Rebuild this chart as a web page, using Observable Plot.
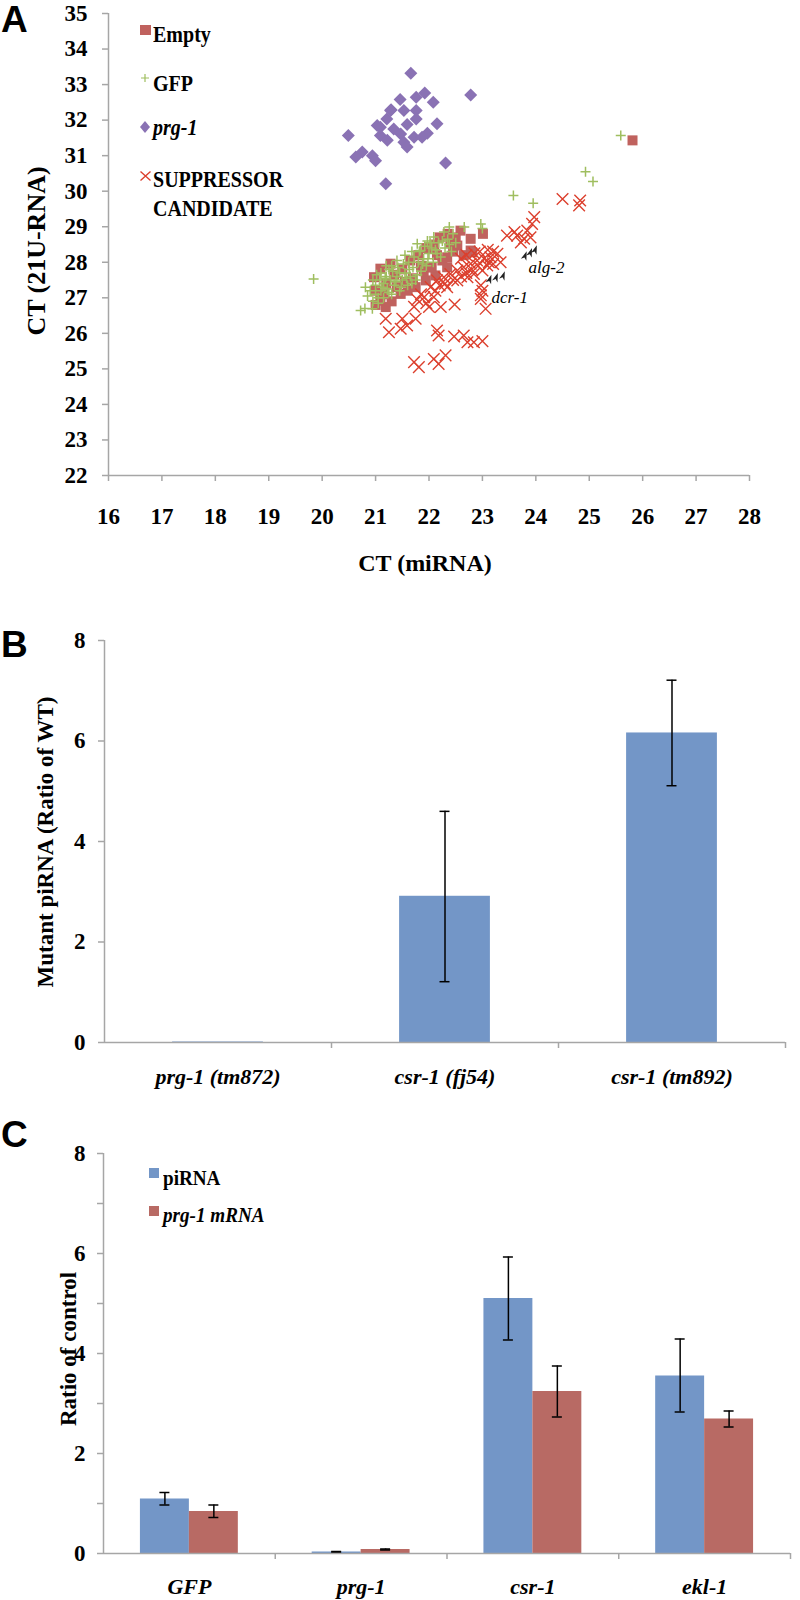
<!DOCTYPE html>
<html>
<head>
<meta charset="utf-8">
<script src="https://cdn.jsdelivr.net/npm/d3@7"></script>
<script src="https://cdn.jsdelivr.net/npm/@observablehq/plot@0.6"></script>
<style>
  html, body { margin: 0; padding: 0; background: #fff; }
  #page { position: relative; width: 800px; height: 1600px; overflow: hidden; background: #fff;
          font-family: "Liberation Serif", "Times New Roman", serif; font-weight: bold; color: #000; }
  .pnl { position: absolute; left: 0; }
  .t { position: absolute; line-height: 1; white-space: nowrap; }
  .rot { transform: translate(-50%, -50%) rotate(-90deg); }
  .ctr { transform: translate(-50%, -50%); }
  .letter { font-family: "Liberation Sans", Arial, sans-serif; font-weight: bold; font-size: 37px; }
  .lg { transform: scaleX(0.87); transform-origin: 0 50%; }
  .mk { position: absolute; overflow: visible; }
  #page svg g[aria-label$="-axis tick"] { stroke: #a6a6a6; stroke-width: 1.5px; }
  #plotB g[aria-label="x-axis tick label"], #plotC g[aria-label="x-axis tick label"] { font-style: italic; font-size: 22px; }
</style>
</head>
<body>
<div id="page"></div>
<script>
// ---------------- Panel A data ----------------
const xTicksA = [16, 17, 18, 19, 20, 21, 22, 23, 24, 25, 26, 27, 28];
const yTicksA = [22, 23, 24, 25, 26, 27, 28, 29, 30, 31, 32, 33, 34, 35];

const emptyPts = [
  [21.19, 26.74], [21.09, 26.92], [21.0, 26.8], [21.3, 26.9], [21.47, 27.11], [21.4, 27.3],
  [21.6, 27.2], [21.75, 27.3], [21.7, 27.55], [21.94, 27.49], [21.9, 27.75], [22.12, 27.63],
  [22.05, 27.85], [22.34, 27.86], [22.25, 28.05], [22.34, 28.14], [22.45, 28.3], [22.53, 28.47],
  [22.59, 28.89], [22.5, 28.7], [22.78, 28.66], [23.01, 28.8], [22.78, 28.33], [22.81, 28.28],
  [22.65, 28.2], [21.09, 27.82], [21.28, 27.96], [20.97, 27.58], [21.0, 27.2], [21.2, 27.4],
  [21.35, 27.65], [21.5, 27.8], [21.65, 28.05], [21.8, 28.2], [21.95, 28.4], [22.1, 28.5],
  [22.2, 28.7], [22.35, 28.8], [21.15, 27.1], [21.55, 27.45], [21.85, 27.9], [22.15, 28.2],
  [22.4, 28.55], [25.81, 31.43]
];

const gfpPts = [
  [19.84, 27.53], [25.59, 31.57], [24.93, 30.55], [25.07, 30.27], [23.58, 29.88], [23.95, 29.66],
  [22.97, 29.08], [23.0, 28.95], [22.66, 28.99], [22.38, 28.99],
  [20.72, 26.64], [20.8, 26.7], [20.94, 26.69], [20.81, 27.3], [20.85, 27.05], [20.9, 27.2],
  [20.95, 26.9], [21.0, 27.1], [21.0, 27.35], [21.05, 26.85], [21.08, 27.5], [21.1, 27.2],
  [21.15, 27.0], [21.15, 27.4], [21.2, 27.6], [21.22, 27.25], [21.28, 27.5], [21.3, 27.1],
  [21.32, 27.75], [21.35, 27.35], [21.4, 27.6], [21.42, 27.85], [21.45, 27.2], [21.5, 27.5],
  [21.52, 27.95], [21.55, 27.7], [21.6, 27.35], [21.62, 28.0], [21.65, 27.6], [21.7, 27.85],
  [21.72, 28.15], [21.75, 27.5], [21.8, 28.0], [21.82, 28.3], [21.85, 27.75], [21.9, 28.1],
  [21.92, 28.45], [21.95, 27.9], [22.0, 28.25], [22.02, 28.55], [22.08, 28.0], [22.09, 28.71],
  [22.12, 28.35], [22.18, 28.55], [22.22, 28.15], [22.28, 28.85], [22.3, 28.4], [22.35, 28.65],
  [22.42, 28.3], [22.45, 28.8], [22.5, 28.55], [21.78, 28.52], [21.84, 28.33], [21.55, 28.2],
  [21.3, 27.9], [21.1, 27.7], [20.95, 27.5], [21.25, 27.8],
  [21.05, 27.0], [21.12, 27.3], [21.18, 27.55], [21.25, 27.15], [21.38, 27.45], [21.45, 27.7],
  [21.48, 27.3], [21.58, 27.55], [21.63, 27.8], [21.68, 27.4], [21.78, 27.65], [21.88, 27.95],
  [21.98, 28.1], [22.05, 28.4], [22.15, 28.25], [22.25, 28.6], [22.38, 28.5], [21.97, 28.6],
  [21.68, 28.3], [21.4, 28.05], [21.2, 27.9], [21.02, 27.65]
];

const prg1Pts = [
  [21.66, 33.32], [22.78, 32.71], [21.92, 32.76], [21.76, 32.64], [21.46, 32.58], [22.08, 32.5],
  [21.53, 32.27], [21.29, 32.29], [21.76, 32.27], [21.76, 32.03], [21.21, 32.03], [21.03, 31.85],
  [21.34, 31.75], [21.59, 31.88], [22.15, 31.9], [20.49, 31.57], [21.09, 31.57], [21.47, 31.61],
  [21.97, 31.63], [21.72, 31.52], [21.22, 31.43], [21.53, 31.38], [21.87, 31.52], [21.59, 31.24],
  [20.75, 31.1], [20.63, 30.96], [20.94, 31.0], [21.0, 30.86], [22.31, 30.79], [21.19, 30.21],
  [21.09, 31.8], [21.28, 32.27]
];

const suppPts = [
  [21.19, 26.41], [21.25, 26.03], [21.47, 26.13], [21.5, 26.41], [21.59, 26.22], [21.75, 26.41],
  [21.72, 25.19], [21.81, 25.05], [22.09, 25.28], [22.18, 25.14], [22.31, 25.38], [22.15, 26.08],
  [22.18, 25.94], [22.47, 25.91], [22.65, 25.94], [22.72, 25.75], [22.84, 25.75], [23.0, 25.78],
  [21.72, 26.75], [21.78, 26.95], [21.85, 27.1], [21.91, 27.02], [21.95, 26.85], [22.0, 26.74],
  [22.03, 27.3], [22.09, 27.02], [22.12, 27.2], [22.15, 27.49], [22.2, 27.35], [22.22, 26.74],
  [22.28, 27.58], [22.3, 27.4], [22.34, 27.3], [22.4, 27.67], [22.45, 27.5], [22.48, 26.81],
  [22.53, 27.77], [22.53, 27.49], [22.6, 27.6], [22.65, 27.86], [22.7, 27.7], [22.72, 27.58],
  [22.78, 27.96], [22.8, 27.8], [22.84, 27.67], [22.9, 28.05], [22.92, 27.9], [22.97, 27.35],
  [22.97, 27.07], [22.97, 26.97], [23.0, 27.2], [23.0, 27.77], [23.03, 28.1], [23.06, 26.69],
  [23.09, 27.91], [23.12, 28.0], [23.15, 28.14], [23.2, 27.95], [23.28, 28.24], [23.34, 28.0],
  [22.6, 28.1], [22.7, 28.2], [22.85, 28.25], [22.95, 28.3], [23.1, 28.35], [23.2, 28.3],
  [23.46, 28.75], [23.6, 28.85], [23.65, 28.75], [23.72, 28.56], [23.78, 28.66], [23.84, 28.89],
  [23.93, 29.08], [23.97, 29.27], [23.9, 28.7], [24.5, 29.78], [24.83, 29.74], [24.81, 29.6]
];

const arrowPts = [
  [23.14, 27.53], [23.26, 27.58], [23.39, 27.63],
  [23.8, 28.19], [23.9, 28.28], [23.99, 28.36]
];
const annotText = ["dcr-1", "alg-2"];
const annotPts = [[23.51, 27.01], [24.2, 27.85]];

// ---------------- Panel B data ----------------
const catsB = ["prg-1 (tm872)", "csr-1 (fj54)", "csr-1 (tm892)"];
const valsB = [0.01, 2.91, 6.16];
const errLoB = [null, 1.21, 5.11];
const errHiB = [null, 4.6, 7.21];
const yTicksB = [0, 2, 4, 6, 8];

// ---------------- Panel C data ----------------
const genesC = ["GFP", "prg-1", "csr-1", "ekl-1"];
const piRNA = [1.09, 0.03, 5.10, 3.55];
const piLo = [0.97, 0.02, 4.27, 2.83];
const piHi = [1.22, 0.04, 5.93, 4.29];
const mRNA = [0.84, 0.08, 3.24, 2.69];
const mLo = [0.72, 0.07, 2.73, 2.53];
const mHi = [0.97, 0.09, 3.75, 2.85];
const yTicksC = [0, 1, 2, 3, 4, 5, 6, 7, 8];

// ---------------- styles ----------------
const axisGray = "#a6a6a6";
const colEmpty = "#c0625e";
const colGfp = "#9fbe5f";
const colPrg = "#8a72b4";
const colSupp = "#dc3f2d";
const barBlue = "#7396c7";
const barRed = "#b86a64";
const W = 800;

// custom symbols whose half-size equals r
const rOf = size => Math.sqrt(size / Math.PI);
const squareSym = { draw(c, s) { const r = rOf(s); c.rect(-r, -r, 2 * r, 2 * r); } };
const diamondSym = { draw(c, s) { const r = rOf(s); c.moveTo(0, -r); c.lineTo(r, 0); c.lineTo(0, r); c.lineTo(-r, 0); c.closePath(); } };
const plusSym = { draw(c, s) { const r = rOf(s); c.moveTo(-r, 0); c.lineTo(r, 0); c.moveTo(0, -r); c.lineTo(0, r); } };
const timesSym = { draw(c, s) { const r = rOf(s); c.moveTo(-r, -r); c.lineTo(r, r); c.moveTo(-r, r); c.lineTo(r, -r); } };
const arrowSym = { draw(c, s) { const r = rOf(s); c.moveTo(0, -r); c.lineTo(r * 0.65, r); c.lineTo(0, r * 0.45); c.lineTo(-r * 0.65, r); c.closePath(); } };

const baseStyle = {
  fontFamily: "'Liberation Serif', 'Times New Roman', serif",
  fontSize: "23px",
  fontWeight: "bold",
  color: "#000",
  background: "transparent",
  overflow: "visible"
};

const page = document.getElementById("page");
function place(el, id, top) {
  const wrap = document.createElement("div");
  wrap.className = "pnl";
  wrap.id = id;
  wrap.style.top = top + "px";
  wrap.append(el);
  page.append(wrap);
}

// ---------------- Panel A ----------------
const xy = { x: d => d[0], y: d => d[1] };
const plotA = Plot.plot({
  width: W, height: 590,
  marginLeft: 108, marginRight: 51, marginTop: 13, marginBottom: 115,
  style: baseStyle,
  x: { domain: [16, 28], ticks: xTicksA, tickSize: 6, tickPadding: 26, label: null },
  y: { domain: [22, 35], ticks: yTicksA, tickSize: 6, tickPadding: 15, label: null },
  marks: [
    Plot.ruleX([16], { stroke: axisGray, strokeWidth: 1.5 }),
    Plot.ruleY([22], { stroke: axisGray, strokeWidth: 1.5 }),
    Plot.dot(emptyPts, { ...xy, symbol: squareSym, r: 5, fill: colEmpty, stroke: "none" }),
    Plot.dot(gfpPts, { ...xy, symbol: plusSym, r: 5, fill: "none", stroke: colGfp, strokeWidth: 1.5 }),
    Plot.dot(prg1Pts, { ...xy, symbol: diamondSym, r: 6.5, fill: colPrg, stroke: "none" }),
    Plot.dot(suppPts, { ...xy, symbol: timesSym, r: 5.8, fill: "none", stroke: colSupp, strokeWidth: 1.4 }),
    Plot.dot(arrowPts, { ...xy, symbol: arrowSym, r: 4.5, fill: "#222", stroke: "none", rotate: 20 }),
    Plot.text(annotPts, { ...xy, text: (d, i) => annotText[i], fontStyle: "italic", fontWeight: "normal", fontSize: 17, fill: "#000" })
  ]
});
place(plotA, "plotA", 0);

// ---------------- Panel B ----------------
const mLB = 104, mRB = 15, padB = 0.6, capW = 10;
const stepB = (W - mLB - mRB) / catsB.length;
const bwB = stepB * (1 - padB);
const dataB = catsB.map((c, i) => ({ c, v: valsB[i], lo: errLoB[i], hi: errHiB[i] }));
const capInsetB = (bwB - capW) / 2;
const plotB = Plot.plot({
  width: W, height: 500,
  marginLeft: mLB, marginRight: mRB, marginTop: 40, marginBottom: 58,
  style: baseStyle,
  x: { type: "band", domain: catsB, paddingInner: padB, paddingOuter: padB / 2, round: false, tickSize: 0, tickPadding: 26, label: null },
  y: { domain: [0, 8], ticks: yTicksB, tickSize: 6, tickPadding: 13, label: null },
  marks: [
    Plot.barY(dataB, { x: "c", y: "v", fill: barBlue }),
    Plot.ruleX(dataB, { x: "c", y1: "lo", y2: "hi", stroke: "#000", strokeWidth: 1.5 }),
    Plot.tickY(dataB, { x: "c", y: "lo", insetLeft: capInsetB, insetRight: capInsetB, stroke: "#000", strokeWidth: 1.5 }),
    Plot.tickY(dataB, { x: "c", y: "hi", insetLeft: capInsetB, insetRight: capInsetB, stroke: "#000", strokeWidth: 1.5 }),
    Plot.ruleY([0], { stroke: axisGray, strokeWidth: 1.5 }),
    Plot.ruleX(catsB.slice(0, 1), { x: d => d, dx: -stepB / 2, stroke: axisGray, strokeWidth: 1.5 }),
    Plot.ruleX(catsB, { x: d => d, dx: stepB / 2, y1: 0, y2: 0, insetBottom: -6, stroke: axisGray, strokeWidth: 1.5 })
  ]
});
place(plotB, "plotB", 600);

// ---------------- Panel C ----------------
const mLC = 103, mRC = 10, padC = 0.43;
const stepC = (W - mLC - mRC) / genesC.length;
const bwC = stepC * (1 - padC);
const half = bwC / 2;
const dataC = genesC.map((g, i) => ({ g, pi: piRNA[i], piLo: piLo[i], piHi: piHi[i], m: mRNA[i], mLo: mLo[i], mHi: mHi[i] }));
const capNear = half / 2 - capW / 2;
const capFar = bwC - half / 2 - capW / 2;
const plotC = Plot.plot({
  width: W, height: 490,
  marginLeft: mLC, marginRight: mRC, marginTop: 43, marginBottom: 47,
  style: baseStyle,
  x: { type: "band", domain: genesC, paddingInner: padC, paddingOuter: padC / 2, round: false, tickSize: 0, tickPadding: 25, label: null },
  y: { domain: [0, 8], ticks: yTicksC, tickFormat: d => (d % 2 === 0 ? String(d) : ""), tickSize: 6, tickPadding: 12, label: null },
  marks: [
    Plot.barY(dataC, { x: "g", y: "pi", fill: barBlue, insetRight: half }),
    Plot.barY(dataC, { x: "g", y: "m", fill: barRed, insetLeft: half }),
    Plot.ruleX(dataC, { x: "g", y1: "piLo", y2: "piHi", dx: -half / 2, stroke: "#000", strokeWidth: 1.5 }),
    Plot.ruleX(dataC, { x: "g", y1: "mLo", y2: "mHi", dx: half / 2, stroke: "#000", strokeWidth: 1.5 }),
    Plot.tickY(dataC, { x: "g", y: "piLo", insetLeft: capNear, insetRight: capFar, stroke: "#000", strokeWidth: 1.5 }),
    Plot.tickY(dataC, { x: "g", y: "piHi", insetLeft: capNear, insetRight: capFar, stroke: "#000", strokeWidth: 1.5 }),
    Plot.tickY(dataC, { x: "g", y: "mLo", insetLeft: capFar, insetRight: capNear, stroke: "#000", strokeWidth: 1.5 }),
    Plot.tickY(dataC, { x: "g", y: "mHi", insetLeft: capFar, insetRight: capNear, stroke: "#000", strokeWidth: 1.5 }),
    Plot.ruleY([0], { stroke: axisGray, strokeWidth: 1.5 }),
    Plot.ruleX(genesC.slice(0, 1), { x: d => d, dx: -stepC / 2, stroke: axisGray, strokeWidth: 1.5 }),
    Plot.ruleX(genesC, { x: d => d, dx: stepC / 2, y1: 0, y2: 0, insetBottom: -6, stroke: axisGray, strokeWidth: 1.5 })
  ]
});
place(plotC, "plotC", 1110);

// ---------------- overlay texts, legends ----------------
const overlay = document.createElement("div");
overlay.innerHTML = `
  <div class="t letter" style="left:1px;top:1px">A</div>
  <div class="t letter" style="left:1px;top:626px">B</div>
  <div class="t letter" style="left:1px;top:1116px">C</div>

  <div class="t rot" style="left:37px;top:251px;font-size:26px">CT (21U-RNA)</div>
  <div class="t ctr" style="left:425px;top:563px;font-size:24px">CT (miRNA)</div>
  <div class="t rot" style="left:45px;top:842px;font-size:23px">Mutant piRNA (Ratio of WT)</div>
  <div class="t rot" style="left:68px;top:1349px;font-size:23px">Ratio of control</div>

  <svg class="mk" style="left:140px;top:25px" width="12" height="11"><rect x="0" y="0" width="11" height="10" fill="${colEmpty}"/></svg>
  <svg class="mk" style="left:141px;top:74px" width="9" height="9"><path d="M0,4H8M4,0V8" stroke="${colGfp}" stroke-width="1.2" fill="none"/></svg>
  <svg class="mk" style="left:139px;top:121px" width="12" height="12"><path d="M6,0L11,6L6,12L1,6Z" fill="${colPrg}"/></svg>
  <svg class="mk" style="left:140px;top:171px" width="11" height="10"><path d="M0.5,0.5L10.5,9.5M0.5,9.5L10.5,0.5" stroke="${colSupp}" stroke-width="1.4" fill="none"/></svg>

  <div class="t lg" style="left:153px;top:22.5px;font-size:23px">Empty</div>
  <div class="t lg" style="left:153px;top:71.5px;font-size:23px">GFP</div>
  <div class="t lg" style="left:153px;top:116px;font-size:23px;font-style:italic">prg-1</div>
  <div class="t lg" style="left:153px;top:167.5px;font-size:23px">SUPPRESSOR</div>
  <div class="t lg" style="left:153px;top:197px;font-size:23px">CANDIDATE</div>

  <svg class="mk" style="left:149px;top:1168px" width="10" height="10"><rect width="10" height="10" fill="${barBlue}"/></svg>
  <svg class="mk" style="left:149px;top:1206px" width="10" height="10"><rect width="10" height="10" fill="${barRed}"/></svg>
  <div class="t lg" style="left:163px;top:1167px;font-size:22px">piRNA</div>
  <div class="t lg" style="left:163px;top:1204px;font-size:22px;font-style:italic">prg-1 mRNA</div>
`;
overlay.style.position = "absolute";
overlay.style.left = "0";
overlay.style.top = "0";
overlay.style.width = "800px";
overlay.style.height = "1600px";
overlay.style.pointerEvents = "none";
page.append(overlay);
</script>
</body>
</html>
